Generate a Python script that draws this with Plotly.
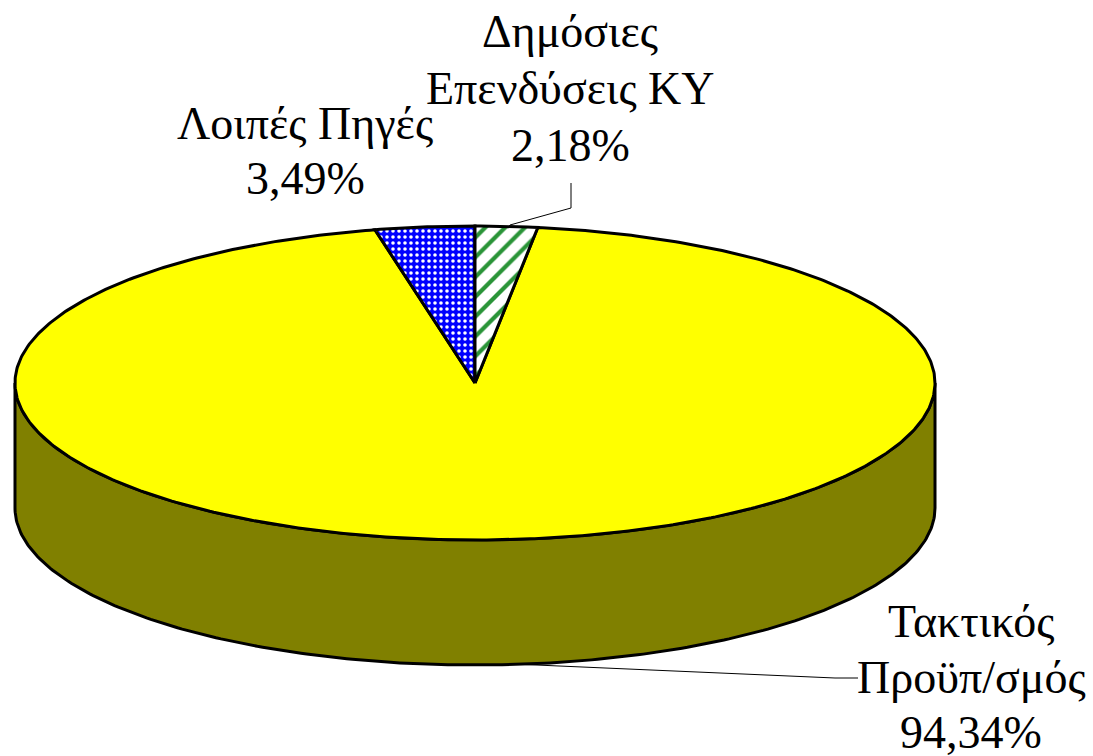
import numpy as np
import plotly.graph_objects as go

# Data
labels = [["Δημόσιες", "Επενδύσεις ΚΥ"], ["Τακτικός", "Προϋπ/σμός"], ["Λοιπές Πηγές"]]
value_labels = ["2,18%", "94,34%", "3,49%"]
values = [2.18, 94.34, 3.49]

# Geometry of the tilted pie, in the pixel-sized units of the axes
CX, CY, RX, RY, DEPTH = 475, 383, 460, 157, 125
LINE = dict(color="black", width=3)


def arc(a0, a1, n=240, dy=0):
    """Points on the ellipse; angles in degrees, clockwise from the top."""
    t = np.radians(np.linspace(a0, a1, n))
    return CX + RX * np.sin(t), CY - RY * np.cos(t) + dy


fig = go.Figure()

# Side wall (front half of the cylinder)
tx, ty = arc(270, 90)
bx, by = arc(90, 270, dy=DEPTH)
fig.add_trace(go.Scatter(
    x=np.concatenate([tx, bx, tx[:1]]), y=np.concatenate([ty, by, ty[:1]]),
    mode="lines", fill="toself", fillcolor="#808000", line=LINE, hoverinfo="skip",
))

# Slices, from the values
total = sum(values)
edges = np.concatenate([[0], np.cumsum(values) / total * 360])
styles = [
    dict(fillcolor="white", fillpattern=dict(shape="/", fgcolor="#2A9438", bgcolor="white",
                                             size=14, solidity=0.3, fgopacity=1,
                                             fillmode="replace")),
    dict(fillcolor="#FFFF00"),
    dict(fillcolor="#0000FF", fillpattern=dict(shape=".", fgcolor="white", bgcolor="#0000FF",
                                               size=6, solidity=0.28, fgopacity=1,
                                               fillmode="replace")),
]
order = [1, 2, 0]
for i in order:
    ax, ay = arc(edges[i], edges[i + 1], n=max(12, int(values[i] * 6)))
    fig.add_trace(go.Scatter(
        x=np.concatenate([[CX], ax, [CX]]), y=np.concatenate([[CY], ay, [CY]]),
        mode="lines", fill="toself", line=LINE, hoverinfo="skip", **styles[i],
    ))

# Labels: centre x and the centre y of each line
positions = [(570, [31, 88, 145]), (971, [621, 677, 732]), (305, [123, 178])]
for lab, vl, (px, ys) in zip(labels, value_labels, positions):
    for line, py in zip(lab + [vl], ys):
        fig.add_annotation(x=px, y=py, text=line, showarrow=False,
                           xanchor="center", yanchor="middle", align="center",
                           font=dict(family="Liberation Serif", size=46, color="black"))

# Leader lines
for path in ["M 510 225 L 571 208 L 571 183", "M 490 663 L 835 678 L 858 678"]:
    fig.add_shape(type="path", path=path, line=dict(color="black", width=1), layer="below")

fig.update_layout(
    width=1093, height=756, margin=dict(l=0, r=0, t=0, b=0),
    paper_bgcolor="white", plot_bgcolor="white", showlegend=False,
    xaxis=dict(range=[0, 1093], visible=False, fixedrange=True),
    yaxis=dict(range=[756, 0], visible=False, fixedrange=True),
)
fig.write_html("out.html", config=dict(displayModeBar=False),
               post_script="document.body.style.margin='0';document.documentElement.style.overflow='hidden';")
